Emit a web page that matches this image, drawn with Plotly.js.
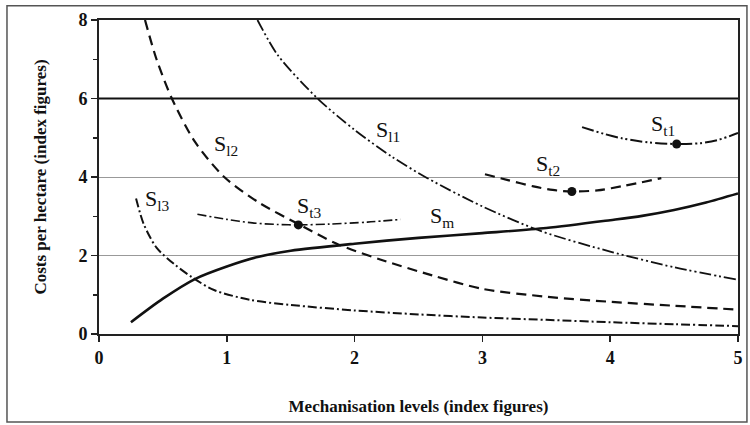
<!DOCTYPE html>
<html>
<head>
<meta charset="utf-8">
<script src="https://cdn.plot.ly/plotly-3.0.1.min.js"></script>
<style>
html,body{margin:0;padding:0;background:#fff;}
#chart{width:750px;height:425px;}
</style>
</head>
<body>
<div id="chart"></div>
<script>
// Machinery costs S_m
const smX = [0.25, 0.5, 0.75, 1.0, 1.25, 1.5, 2.0, 2.5, 3.0, 3.5, 4.0, 4.25, 4.5, 4.75, 5.0];
const smY = [0.3, 0.9, 1.4, 1.72, 1.97, 2.12, 2.3, 2.45, 2.57, 2.7, 2.9, 3.01, 3.16, 3.35, 3.58];
// Labour costs S_l1, S_l2, S_l3
const sl1X = [1.24, 1.4, 1.71, 2.0, 2.3, 2.57, 3.0, 3.46, 4.0, 4.5, 5.0];
const sl1Y = [8.0, 7.1, 6.0, 5.2, 4.5, 3.97, 3.25, 2.62, 2.1, 1.7, 1.38];
const sl2X = [0.36, 0.45, 0.57, 0.75, 0.98, 1.25, 1.59, 1.86, 2.2, 2.6, 3.0, 3.5, 4.0, 4.5, 5.0];
const sl2Y = [8.0, 7.0, 6.0, 4.9, 4.0, 3.35, 2.75, 2.3, 1.9, 1.5, 1.15, 0.95, 0.82, 0.72, 0.62];
const sl3X = [0.29, 0.35, 0.45, 0.6, 0.735, 0.9, 1.18, 1.5, 2.0, 2.5, 3.0, 3.5, 4.0, 4.5, 5.0];
const sl3Y = [3.45, 2.8, 2.2, 1.75, 1.43, 1.12, 0.87, 0.74, 0.6, 0.5, 0.42, 0.36, 0.3, 0.25, 0.2];
// Total costs S_t1, S_t2, S_t3
const st1X = [3.78, 3.95, 4.1, 4.3, 4.52, 4.7, 4.85, 5.0];
const st1Y = [5.27, 5.1, 4.98, 4.88, 4.84, 4.86, 4.95, 5.12];
const st2X = [3.02, 3.2, 3.4, 3.55, 3.7, 3.9, 4.1, 4.4];
const st2Y = [4.07, 3.92, 3.76, 3.67, 3.63, 3.66, 3.77, 3.97];
const st3X = [0.77, 1.0, 1.2, 1.4, 1.56, 1.8, 2.1, 2.36];
const st3Y = [3.05, 2.92, 2.83, 2.79, 2.78, 2.8, 2.85, 2.92];
// Minimum points of total cost curves
const minX = [1.56, 3.70, 4.52];
const minY = [2.78, 3.63, 4.84];
// Curve labels
const labelText = ["S<sub>l2</sub>", "S<sub>l1</sub>", "S<sub>l3</sub>", "S<sub>t3</sub>", "S<sub>m</sub>", "S<sub>t2</sub>", "S<sub>t1</sub>"];
const labelX = [0.99, 2.26, 0.46, 1.65, 2.68, 3.51, 4.41];
const labelY = [4.82, 5.17, 3.41, 3.24, 2.98, 4.30, 5.32];
// Axis ticks
const xTicks = [0, 1, 2, 3, 4, 5];
const yTicks = [0, 2, 4, 6, 8];

const serif = "Liberation Serif";
const ink = "#111";

const dashDotDot = "12px,3px,2px,3px,2px,3px";
const dashDot = "9px,3px,2px,3px";
const longDash = "10px,6px";

function line(x, y, dash, width) {
  return {x: x, y: y, type: "scatter", mode: "lines", line: {color: ink, width: width, dash: dash, shape: "spline", smoothing: 0.8}, hoverinfo: "skip"};
}

const data = [
  line(sl1X, sl1Y, dashDotDot, 1.8),
  line(sl2X, sl2Y, longDash, 2.2),
  line(sl3X, sl3Y, dashDot, 2),
  line(st1X, st1Y, dashDotDot, 2),
  line(st2X, st2Y, longDash, 2.2),
  line(st3X, st3Y, dashDot, 1.6),
  line(smX, smY, "solid", 2.6),
  {x: minX, y: minY, type: "scatter", mode: "markers", marker: {color: ink, size: 9}, hoverinfo: "skip"}
];

const annotations = labelText.map((t, i) => ({
  x: labelX[i], y: labelY[i], xref: "x", yref: "y", text: t, showarrow: false,
  font: {family: serif, size: 22, color: ink}
}));

const layout = {
  width: 750, height: 425,
  margin: {l: 99, r: 12, t: 20, b: 91},
  paper_bgcolor: "#fff", plot_bgcolor: "#fff",
  showlegend: false,
  font: {family: serif, color: ink},
  xaxis: {
    range: [0, 5], tickvals: xTicks, ticktext: xTicks.map(v => "<b>" + v + "</b>"),
    showgrid: false, zeroline: false,
    showline: true, linecolor: "#222", linewidth: 2, mirror: true,
    ticks: "outside", ticklen: 6, tickwidth: 1.5, tickcolor: "#222",
    tickfont: {family: serif, size: 18, color: ink},
    title: {text: "<b>Mechanisation levels (index figures)</b>", font: {family: serif, size: 17, color: ink}, standoff: 34}
  },
  yaxis: {
    range: [0, 8], tickvals: yTicks, ticktext: yTicks.map(v => "<b>" + v + "</b>"),
    showgrid: true, gridcolor: "#999", gridwidth: 1, zeroline: false,
    showline: true, linecolor: "#222", linewidth: 2, mirror: true,
    ticks: "outside", ticklen: 6, tickwidth: 1.5, tickcolor: "#222",
    minor: {dtick: 1, ticks: "outside", ticklen: 4, tickcolor: "#222", showgrid: false},
    tickfont: {family: serif, size: 18, color: ink},
    title: {text: "<b>Costs per hectare (index figures)</b>", font: {family: serif, size: 17, color: ink}, standoff: 27}
  },
  shapes: [
    {type: "line", xref: "paper", yref: "y", x0: 0, x1: 1, y0: 6, y1: 6, line: {color: "#111", width: 2}},
    {type: "rect", xref: "paper", yref: "paper", x0: -0.144, x1: 1.014, y0: -0.28, y1: 1.045, line: {color: "#555", width: 1.5}, layer: "below"}
  ],
  annotations: annotations
};

Plotly.newPlot("chart", data, layout, {staticPlot: true, displayModeBar: false});
</script>
</body>
</html>
